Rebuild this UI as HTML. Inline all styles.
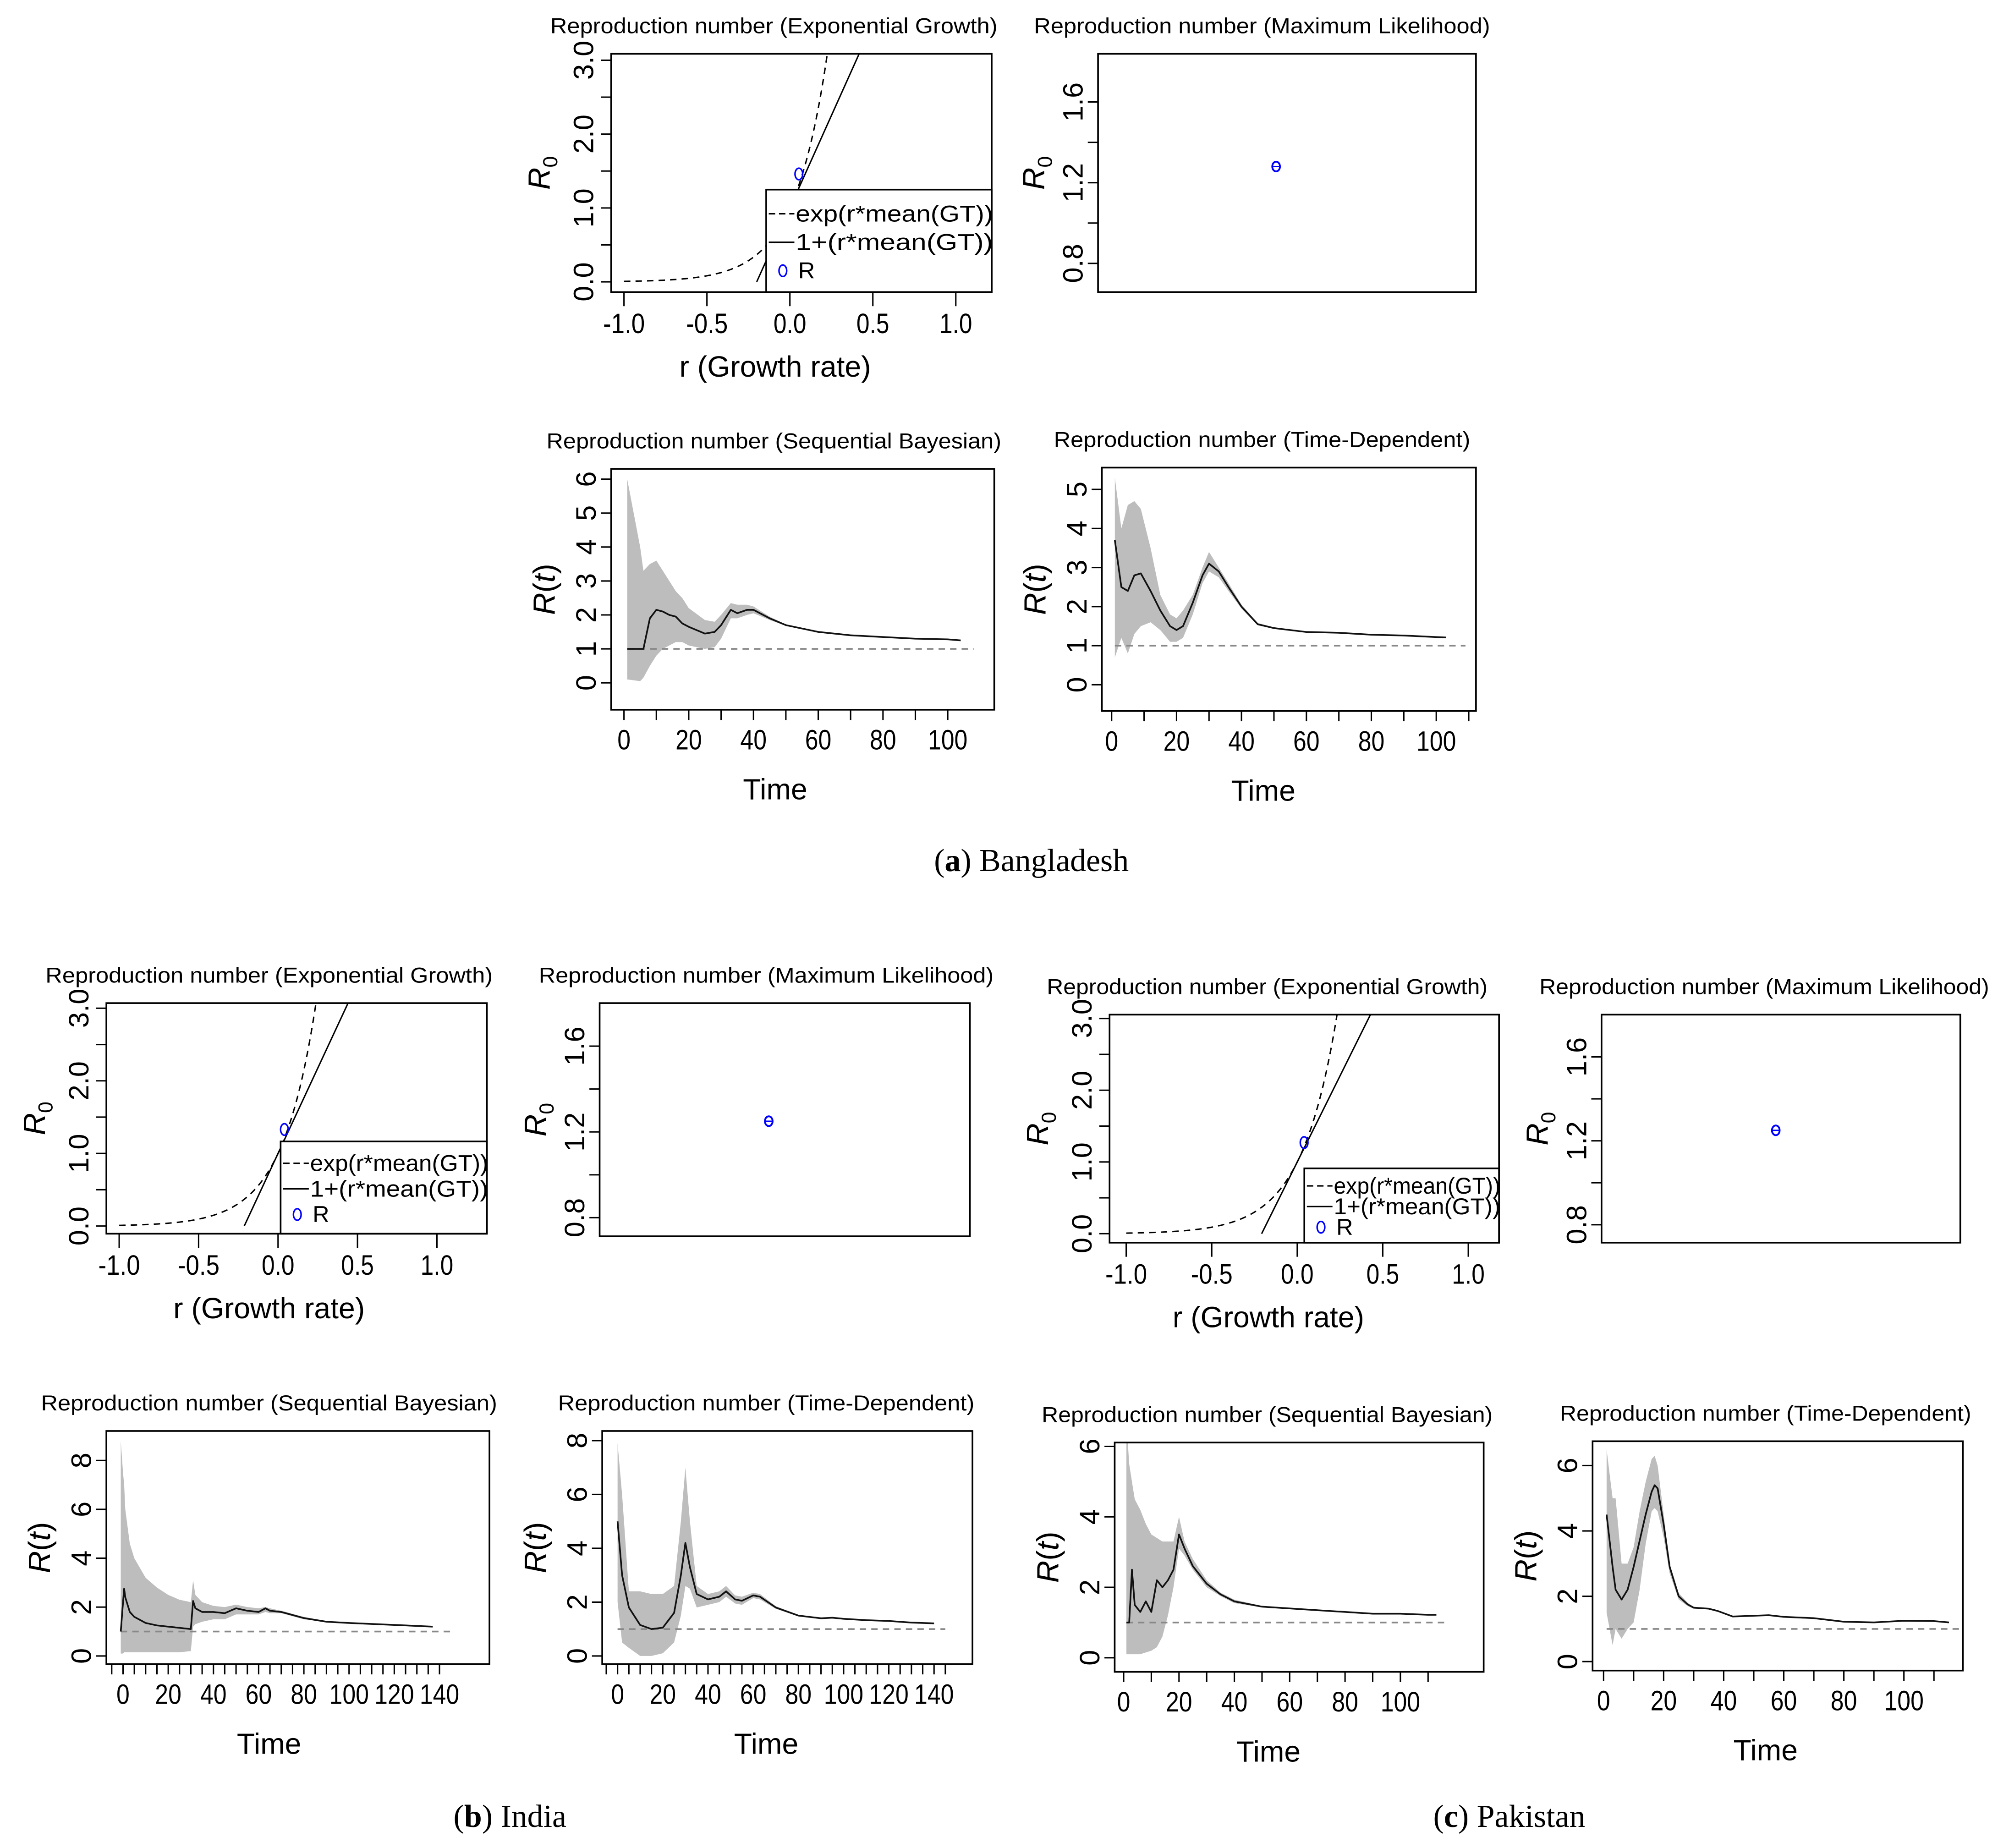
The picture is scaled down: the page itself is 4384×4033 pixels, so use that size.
<!DOCTYPE html>
<html><head><meta charset="utf-8">
<style>
html,body{margin:0;padding:0;background:#fff;}
svg{display:block;}
text{font-family:"Liberation Sans",sans-serif;fill:#000;}
.serif{font-family:"Liberation Serif",serif;}
</style></head>
<body>
<svg id="fig" xmlns="http://www.w3.org/2000/svg" width="4384" height="4033" viewBox="0 0 1568 1442.5">
<rect x="0" y="0" width="1568" height="1443" fill="#fff"/>
<text class="serif" x="805" y="680" font-size="25" text-anchor="middle">(<tspan font-weight="bold">a</tspan>) Bangladesh</text>
<text class="serif" x="398" y="1426" font-size="25" text-anchor="middle">(<tspan font-weight="bold">b</tspan>) India</text>
<text class="serif" x="1178" y="1426" font-size="25" text-anchor="middle">(<tspan font-weight="bold">c</tspan>) Pakistan</text>
</svg>
<script>
// ---------- data ----------
const growthRateBD = 5.0, growthRateIN = 4.7, growthRatePK = 4.8;
const expPointR = [0.054, 0.04, 0.04];
const expPointR0 = [1.46, 1.33, 1.27];
const mlR0 = [1.28, 1.25, 1.25];
const expXTicks = [-1.0, -0.5, 0.0, 0.5, 1.0];
const expYTicks = [0.0, 1.0, 2.0, 3.0];
const mlYTicks = [0.8, 1.2, 1.6];

const bdSbTime = [1,5,6,8,10,12,14,16,18,20,25,28,30,33,35,38,40,45,50,60,70,80,90,100,104];
const bdSbMean = [1,1,1,1.9,2.15,2.1,2.0,1.95,1.75,1.65,1.45,1.5,1.7,2.15,2.05,2.15,2.15,1.9,1.7,1.5,1.4,1.35,1.3,1.28,1.25];
const bdSbUpper = [6.0,4.0,3.3,3.5,3.6,3.3,3.0,2.7,2.5,2.2,1.85,1.8,2.0,2.35,2.3,2.3,2.25,1.95,1.72,1.52,1.42,1.36,1.31,1.28,1.26];
const bdSbLower = [0.1,0.05,0.15,0.5,0.8,1.0,1.1,1.2,1.2,1.1,1.0,1.05,1.3,1.9,1.9,2.0,2.05,1.85,1.68,1.48,1.38,1.33,1.29,1.27,1.24];

const bdTdTime = [1,3,5,7,9,12,15,18,20,22,25,28,30,33,36,40,45,50,55,60,70,80,90,100,103];
const bdTdMean = [3.7,2.5,2.4,2.8,2.85,2.4,1.9,1.5,1.4,1.5,2.1,2.8,3.1,2.9,2.5,2.0,1.55,1.45,1.4,1.35,1.33,1.28,1.26,1.22,1.21];
const bdTdUpper = [5.3,4.0,4.6,4.7,4.5,3.5,2.3,1.8,1.7,1.9,2.3,3.0,3.4,3.0,2.6,2.05,1.58,1.47,1.42,1.37,1.35,1.3,1.27,1.23,1.22];
const bdTdLower = [0.7,1.2,0.8,1.3,1.5,1.6,1.4,1.1,1.1,1.2,1.8,2.6,2.9,2.75,2.4,1.95,1.52,1.43,1.38,1.33,1.31,1.26,1.25,1.21,1.2];

const inSbTime = [-1,0,0.5,1,3,5,10,15,20,25,30,31,32,35,40,45,50,55,60,63,65,70,80,90,100,120,137];
const inSbMean = [1,2.2,2.75,2.4,1.8,1.6,1.35,1.25,1.2,1.15,1.1,2.25,1.95,1.8,1.8,1.75,1.95,1.85,1.8,1.95,1.85,1.8,1.55,1.4,1.35,1.27,1.2];
const inSbUpper = [8.8,7.5,7.0,6.0,4.6,4.0,3.2,2.8,2.5,2.3,2.2,3.1,2.5,2.2,2.05,2.0,2.1,2.0,1.95,2.0,1.95,1.85,1.6,1.42,1.37,1.28,1.21];
const inSbLower = [0.1,0.1,0.15,0.15,0.15,0.15,0.15,0.15,0.15,0.15,0.2,1.2,1.3,1.4,1.5,1.5,1.7,1.7,1.7,1.8,1.75,1.75,1.5,1.38,1.33,1.26,1.19];

const inTdTime = [0,2,5,10,15,20,25,28,30,32,35,40,45,48,52,55,60,63,70,80,90,95,100,110,120,130,140];
const inTdMean = [5.0,3.0,1.8,1.15,1.0,1.05,1.6,3.0,4.2,3.3,2.3,2.1,2.2,2.4,2.1,2.05,2.25,2.2,1.8,1.5,1.4,1.42,1.38,1.33,1.3,1.24,1.21];
const inTdUpper = [7.9,6.0,2.4,2.4,2.3,2.3,2.6,5.0,7.0,5.0,2.6,2.3,2.4,2.6,2.25,2.2,2.35,2.3,1.85,1.53,1.42,1.44,1.4,1.35,1.31,1.25,1.22];
const inTdLower = [2.0,0.5,0.3,0.0,0.0,0.1,0.5,1.5,2.6,2.5,1.8,1.9,2.0,2.2,1.95,1.9,2.15,2.1,1.75,1.47,1.38,1.4,1.36,1.31,1.28,1.22,1.2];

const pkSbTime = [1,2,3,4,6,8,10,12,14,16,18,20,22,25,30,35,40,50,60,70,80,90,100,110,113];
const pkSbMean = [1,1,2.5,1.5,1.3,1.6,1.3,2.2,2.0,2.2,2.5,3.5,3.1,2.6,2.1,1.8,1.6,1.45,1.4,1.35,1.3,1.25,1.25,1.22,1.22];
const pkSbUpper = [6.7,5.5,5.0,4.5,4.2,3.8,3.5,3.4,3.3,3.3,3.3,4.0,3.3,2.8,2.2,1.85,1.65,1.47,1.42,1.37,1.32,1.27,1.26,1.23,1.23];
const pkSbLower = [0.1,0.1,0.1,0.1,0.1,0.15,0.2,0.3,0.6,1.2,2.0,3.1,2.9,2.5,2.0,1.75,1.55,1.43,1.38,1.33,1.28,1.23,1.23,1.21,1.21];

const pkTdTime = [1,3,4,6,8,10,12,14,16,17,18,20,22,25,28,30,35,38,43,55,60,70,80,90,100,110,115];
const pkTdMean = [4.5,2.9,2.2,1.9,2.2,2.9,3.7,4.5,5.2,5.4,5.3,4.2,2.9,2.0,1.75,1.65,1.62,1.55,1.38,1.42,1.37,1.33,1.22,1.2,1.25,1.24,1.2];
const pkTdUpper = [6.5,5.0,5.0,3.0,3.0,3.5,4.6,5.5,6.2,6.3,6.0,4.5,3.0,2.1,1.8,1.68,1.64,1.57,1.4,1.44,1.39,1.35,1.24,1.22,1.27,1.26,1.22];
const pkTdLower = [1.5,0.5,1.0,0.7,1.0,1.2,2.2,3.6,4.6,4.7,4.6,3.8,2.7,1.9,1.7,1.62,1.6,1.53,1.36,1.4,1.35,1.31,1.2,1.18,1.23,1.22,1.18];

const ticks0to100 = [0,20,40,60,80,100];
const ticks0to140 = [0,20,40,60,80,100,120,140];
const ticks0to6 = [0,1,2,3,4,5,6];
const ticks0to5 = [0,1,2,3,4,5];
const ticks0to8 = [0,2,4,6,8];
const ticks0to6by2 = [0,2,4,6];

// ---------- helpers ----------
const NS = "http://www.w3.org/2000/svg";
const svg = document.getElementById("fig");
function mk(tag, attrs, parent) {
  const e = document.createElementNS(NS, tag);
  for (const k in attrs) e.setAttribute(k, attrs[k]);
  (parent || svg).appendChild(e);
  return e;
}
function scale(v0, p0, v1, p1) { return v => p0 + (v - v0) * (p1 - p0) / (v1 - v0); }
function labW(s) { let w = 0; for (const c of s) w += (c === '.' ? 5 : c === '-' ? 7 : 10.3); return w; }

function frame(g, P, name) {
  const [x0, y0, x1, y1] = P.box;
  const r = mk("rect", {x:x0, y:y0, width:x1-x0, height:y1-y0, fill:"none", stroke:"#000", "stroke-width":1.3}, g);
  
  
  const t = mk("text", {x:P.titleX, y:y0-16, "font-size":17, "text-anchor":"middle", textLength:P.titleW, lengthAdjust:"spacingAndGlyphs"}, g);
  t.textContent = P.title;
  
  
}
function xAxis(g, P, X, ticks, fmt, minorStep, name) {
  const y1 = P.box[3], ay = y1;
  const mt = minorStep ? [] : ticks;
  if (minorStep) { for (let v = P.minorStart; v <= P.minorEnd + 1e-9; v += minorStep) mt.push(v); }
  mt.forEach(v => {
    const tk = mk("line", {x1:X(v), x2:X(v), y1:ay, y2:ay+P.tickLen, stroke:"#000", "stroke-width":1.1}, g);
    
    
  });
  ticks.forEach(v => {
    const s = fmt(v);
    const tl = mk("text", {x:X(v), y:ay+P.xLabOff, "font-size":22, "text-anchor":"middle", textLength:labW(s), lengthAdjust:"spacingAndGlyphs"}, g);
    tl.textContent = s;
    
    
  });
  const xt = mk("text", {x:P.xTitleX, y:ay+P.xTitleOff, "font-size":23, "text-anchor":"middle"}, g);
  xt.textContent = P.xTitle;
  
  
}
function yAxis(g, P, Y, ticks, fmt, minor, name) {
  const x0 = P.box[0];
  const all = minor || ticks;
  all.forEach(v => {
    const tk = mk("line", {x1:x0-8, x2:x0, y1:Y(v), y2:Y(v), stroke:"#000", "stroke-width":1.1}, g);
    
    
  });
  ticks.forEach(v => {
    const lx = x0 - P.yLabOff;
    const s = fmt(v);
    const tl = mk("text", {x:lx, y:Y(v), "font-size":22, "text-anchor":"middle", transform:`rotate(-90 ${lx} ${Y(v)})`}, g);
    tl.textContent = s;
    
    
  });
  const tx = x0 - P.yTitleOff, ty = (P.box[1] + P.box[3]) / 2;
  const yt = mk("text", {x:tx, y:ty, "font-size":24, "text-anchor":"middle", transform:`rotate(-90 ${tx} ${ty})`}, g);
  if (P.yTitle === "R0") {
    yt.innerHTML = '<tspan font-style="italic">R</tspan><tspan font-size="16" dy="6">0</tspan>';
  } else {
    yt.innerHTML = '<tspan font-style="italic">R</tspan>(<tspan font-style="italic">t</tspan>)';
  }
  
  
}
function clipFor(g, P, name) {
  const id = "clip-" + name;
  const cp = mk("clipPath", {id:id}, g);
  mk("rect", {x:P.box[0], y:P.box[1], width:P.box[2]-P.box[0], height:P.box[3]-P.box[1]}, cp);
  return "url(#" + id + ")";
}
const f1 = v => v.toFixed(1);
const f0 = v => String(v);

// ---------- panels ----------
function expPanel(P, G, rPt, r0Pt, name) {
  const g = mk("g", {});
  
  
  const X = scale(P.xr[0], P.xr[1], P.xr[2], P.xr[3]);
  const Y = scale(P.yr[0], P.yr[1], P.yr[2], P.yr[3]);
  const clip = clipFor(g, P, name);
  let d = "";
  for (let r = -1.0; r <= 0.35; r += 0.01) { d += (d ? "L" : "M") + X(r).toFixed(2) + "," + Y(Math.exp(r * G)).toFixed(2); }
  const ex = mk("path", {d:d, fill:"none", stroke:"#000", "stroke-width":1.1, "stroke-dasharray":"5,4", "clip-path":clip}, g);
  
  
  const rs = -1 / G, re = 2.5 / G;
  const ln = mk("line", {x1:X(rs), y1:Y(1 + rs * G), x2:X(re), y2:Y(1 + re * G), stroke:"#000", "stroke-width":1.1, "clip-path":clip}, g);
  
  
  const [lx0, ly0, lx1, ly1] = P.legend;
  const lb = mk("rect", {x:lx0, y:ly0, width:lx1-lx0, height:ly1-ly0, fill:"#fff", stroke:"#000", "stroke-width":1.3}, g);
  
  
  const rows = [["exp(r*mean(GT))","dash"],["1+(r*mean(GT))","solid"],["R","pt"]];
  const step = (ly1 - ly0) / 3.6;
  rows.forEach((row, i) => {
    const yy = ly0 + step * (i + 0.85);
    if (row[1] === "pt") {
      const c = mk("ellipse", {cx:lx0+13, cy:yy, rx:3, ry:4.5, fill:"none", stroke:"#00f", "stroke-width":1.2}, g);
      
      
    } else {
      const l = mk("line", {x1:lx0+2, x2:lx0+22, y1:yy, y2:yy, stroke:"#000", "stroke-width":1.1}, g);
      if (row[1] === "dash") l.setAttribute("stroke-dasharray", "5,3");
      
      
    }
    const t = mk("text", {x:lx0+(i===2?25:23), y:yy+6, "font-size":18}, g);
    if (i < 2) { t.setAttribute("textLength", lx1 - lx0 - 22); t.setAttribute("lengthAdjust", "spacingAndGlyphs"); }
    t.textContent = row[0];
    
    
  });
  const pt = mk("ellipse", {cx:X(rPt), cy:Y(r0Pt), rx:3, ry:4.5, fill:"none", stroke:"#00f", "stroke-width":1.2}, g);
  
  
  frame(g, P, name);
  xAxis(g, P, X, expXTicks, f1, 0, name);
  yAxis(g, P, Y, expYTicks, f1, [0,0.5,1,1.5,2,2.5,3], name);
}
function mlPanel(P, r0, name) {
  const g = mk("g", {});
  
  
  const Y = scale(P.yr[0], P.yr[1], P.yr[2], P.yr[3]);
  const pt = mk("ellipse", {cx:P.ptX, cy:Y(r0), rx:3, ry:3.8, fill:"none", stroke:"#00f", "stroke-width":1.4}, g);
  
  
  const bar = mk("line", {x1:P.ptX-2.5, x2:P.ptX+2.5, y1:Y(r0), y2:Y(r0), stroke:"#00f", "stroke-width":1}, g);
  
  
  frame(g, P, name);
  yAxis(g, P, Y, mlYTicks, f1, [0.8,1.0,1.2,1.4,1.6], name);
}
function tsPanel(P, T, M, U, L, xt, yt, name) {
  const g = mk("g", {});
  
  
  const X = scale(P.xr[0], P.xr[1], P.xr[2], P.xr[3]);
  const Y = scale(P.yr[0], P.yr[1], P.yr[2], P.yr[3]);
  const clip = clipFor(g, P, name);
  let d = "";
  T.forEach((t, i) => { d += (i ? "L" : "M") + X(t).toFixed(2) + "," + Y(U[i]).toFixed(2); });
  for (let i = T.length - 1; i >= 0; i--) d += "L" + X(T[i]).toFixed(2) + "," + Y(L[i]).toFixed(2);
  const band = mk("path", {d:d + "Z", fill:"#bdbdbd", stroke:"none", "clip-path":clip}, g);
  
  
  const ref = mk("line", {x1:X(T[0]), x2:X(P.refEnd), y1:Y(1), y2:Y(1), stroke:"#888", "stroke-width":1.3, "stroke-dasharray":"5,4"}, g);
  
  
  let m = "";
  T.forEach((t, i) => { m += (i ? "L" : "M") + X(t).toFixed(2) + "," + Y(M[i]).toFixed(2); });
  const ml = mk("path", {d:m, fill:"none", stroke:"#111", "stroke-width":1.3, "stroke-linejoin":"round"}, g);
  
  
  frame(g, P, name);
  xAxis(g, P, X, xt, f0, P.minorStep, name);
  yAxis(g, P, Y, yt, f0, null, name);
}

// ---------- layout ----------
const TE = "Reproduction number (Exponential Growth)";
const TM = "Reproduction number (Maximum Likelihood)";
const TS = "Reproduction number (Sequential Bayesian)";
const TD = "Reproduction number (Time-Dependent)";
const expCommon = {tickLen:11, xLabOff:32, xTitleOff:66, yLabOff:14, yTitleOff:48, xTitle:"r (Growth rate)", yTitle:"R0"};
const tsCommon = {tickLen:8, xLabOff:31, xTitleOff:70, yLabOff:12, yTitleOff:44, xTitle:"Time", yTitle:"Rt"};
const mlCommon = {yLabOff:12, yTitleOff:42, yTitle:"R0"};

expPanel(Object.assign({}, expCommon, {box:[477,42,774,228], xr:[-1,487,1,746], yr:[0,220,3,47], legend:[598,148,774,228], title:TE, titleW:349, titleX:604, xTitleX:605}), growthRateBD, expPointR[0], expPointR0[0], "bangladesh-exp-growth");
mlPanel(Object.assign({}, mlCommon, {box:[857,42,1152,228], yr:[0.8,205.6,1.6,79.6], ptX:996, title:TM, titleW:356, titleX:985}), mlR0[0], "bangladesh-max-likelihood");
tsPanel(Object.assign({}, tsCommon, {box:[477,366,776,554], xr:[0,487,100,739.7], yr:[0,533,6,374], title:TS, titleW:355, titleX:604, xTitleX:605, refEnd:108, minorStep:10, minorStart:0, minorEnd:100}), bdSbTime, bdSbMean, bdSbUpper, bdSbLower, ticks0to100, ticks0to6, "bangladesh-sequential-bayesian");
tsPanel(Object.assign({}, tsCommon, {box:[860,365,1152,555], xr:[0,867.6,100,1121], yr:[0,534.5,5,382], title:TD, titleW:325, titleX:985, xTitleX:986, refEnd:109, minorStep:10, minorStart:0, minorEnd:110}), bdTdTime, bdTdMean, bdTdUpper, bdTdLower, ticks0to100, ticks0to5, "bangladesh-time-dependent");

expPanel(Object.assign({}, expCommon, {box:[83,783,380,963], xr:[-1,93,1,341], yr:[0,957,3,787], legend:[219,891,380,963], title:TE, titleW:349, titleX:210, xTitleX:210}), growthRateIN, expPointR[1], expPointR0[1], "india-exp-growth");
mlPanel(Object.assign({}, mlCommon, {box:[468,783,757,965], yr:[0.8,950.5,1.6,816.6], ptX:600, title:TM, titleW:355, titleX:598}), mlR0[1], "india-max-likelihood");
tsPanel(Object.assign({}, tsCommon, {box:[83,1117,382,1299], xr:[0,96,140,343], yr:[0,1292.6,8,1140], title:TS, titleW:356, titleX:210, xTitleX:210, refEnd:145, minorStep:5, minorStart:-5, minorEnd:140}), inSbTime, inSbMean, inSbUpper, inSbLower, ticks0to140, ticks0to8, "india-sequential-bayesian");
tsPanel(Object.assign({}, tsCommon, {box:[470,1117,759,1299], xr:[0,482,140,729], yr:[0,1292.6,8,1124.5], title:TD, titleW:325, titleX:598, xTitleX:598, refEnd:145, minorStep:5, minorStart:-5, minorEnd:145}), inTdTime, inTdMean, inTdUpper, inTdLower, ticks0to140, ticks0to8, "india-time-dependent");

expPanel(Object.assign({}, expCommon, {box:[866,792,1170,970], xr:[-1,879,1,1146], yr:[0,963,3,795], legend:[1018,912,1170,970], title:TE, titleW:344, titleX:989, xTitleX:990}), growthRatePK, expPointR[2], expPointR0[2], "pakistan-exp-growth");
mlPanel(Object.assign({}, mlCommon, {box:[1250,792,1530,970], yr:[0.8,956,1.6,825], ptX:1386, title:TM, titleW:351, titleX:1377}), mlR0[2], "pakistan-max-likelihood");
tsPanel(Object.assign({}, tsCommon, {box:[870,1126,1158,1305], xr:[0,877,100,1093], yr:[0,1294,6,1129], title:TS, titleW:352, titleX:989, xTitleX:990, refEnd:117, minorStep:10, minorStart:0, minorEnd:110}), pkSbTime, pkSbMean, pkSbUpper, pkSbLower, ticks0to100, ticks0to6by2, "pakistan-sequential-bayesian");
tsPanel(Object.assign({}, tsCommon, {box:[1243,1125,1532,1304], xr:[0,1251.6,100,1486], yr:[0,1297,6,1144], title:TD, titleW:321, titleX:1378, xTitleX:1378, refEnd:120, minorStep:10, minorStart:0, minorEnd:110}), pkTdTime, pkTdMean, pkTdUpper, pkTdLower, ticks0to100, ticks0to6by2, "pakistan-time-dependent");
</script>
</body></html>
